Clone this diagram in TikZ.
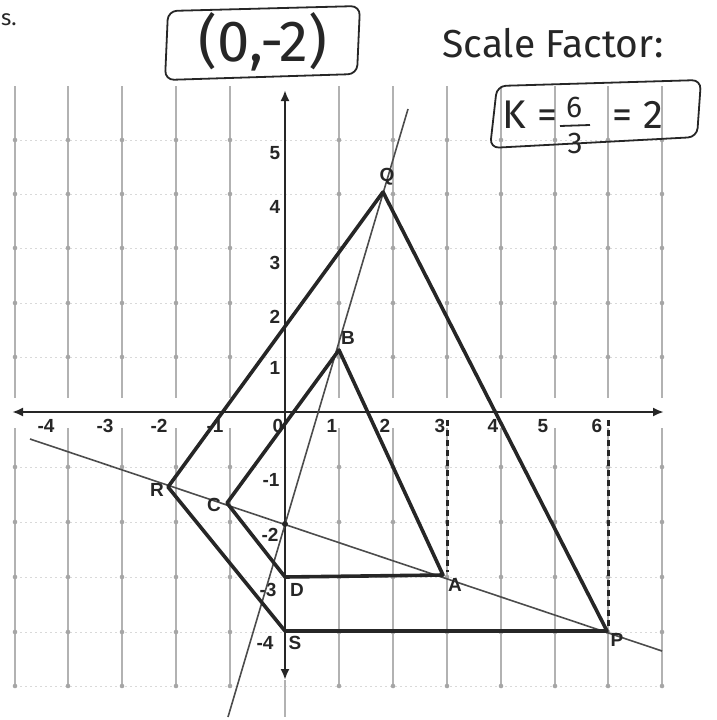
\documentclass[tikz,border=0pt]{standalone}
\usepackage{fontspec}
\newfontfamily\hand{Fira Sans}
\newfontfamily\labfont{Liberation Sans}
\usetikzlibrary{arrows.meta}
\tikzset{
  gridv/.style={draw=gray!60, line width=1.7pt},
  gridh/.style={draw=gray!30, line width=0.7pt, dash pattern=on 2pt off 3pt},
  axisline/.style={draw=black!85, line width=2.8pt},
  shapeline/.style={draw=black!85, line width=3.6pt, line join=round, line cap=round},
  rayline/.style={draw=black!70, line width=1.6pt},
  dropline/.style={draw=black!85, line width=3pt, dash pattern=on 6pt off 4pt},
  ticklab/.style={font=\labfont\bfseries\fontsize{19}{19}\selectfont, text=black!85, inner sep=0pt},
  handtxt/.style={font=\hand, text=black!85, inner sep=0pt},
  handbox/.style={draw=black!85, line width=1.8pt, rounded corners=9pt},
}
\begin{document}
\begin{tikzpicture}[x=1pt,y=-1pt]
\useasboundingbox (0,0) rectangle (716,720);
% grid
\foreach \y in {140,194,248,303,357,467,522,577,632,686}
  \draw[gridh] (15,\y) -- (662,\y);
\foreach \x in {15,68,122,176,230,339,393,447,501,555,608,662}{
  \draw[gridv] (\x,86) -- (\x,398);
  \draw[gridv] (\x,428) -- (\x,686);
  \foreach \y in {140,194,248,303,357,467,522,577,632,686}
    \fill[gray!70] (\x,\y) circle (2.3pt);
}
% axes
\coordinate (xl) at (12,412);
\coordinate (xr) at (664,412);
\coordinate (yt) at (285,90);
\coordinate (yb) at (285,680);
\coordinate (yend) at (285,717);
\draw[axisline,{Latex[length=11pt,width=9pt]}-{Latex[length=11pt,width=9pt]}] (xl) -- (xr);
\draw[axisline,{Latex[length=11pt,width=9pt]}-{Latex[length=11pt,width=9pt]}] (yb) -- (yt);
\draw[gray!60, line width=1.4pt] (yb) -- (yend);
% tick labels
\foreach \t/\x in {-4/46,-3/105,-2/159,-1/215,0/278,1/332,2/385,3/440,4/493,5/543,6/597}
  \node[ticklab] (tx\t) at (\x,426) {\t};
\foreach \t/\y in {5/153,4/207,3/263,2/317,1/368}
  \node[ticklab] (ty\t) at (275,\y) {\t};
\foreach \t/\y/\x in {-1/480/271,-2/535/270,-3/590/268,-4/643/265}
  \node[ticklab] (ty\t) at (\x,\y) {\t};
% points
\coordinate (Q) at (383,192);
\coordinate (B) at (339,350);
\coordinate (R) at (168,487);
\coordinate (C) at (227,503);
\coordinate (D) at (285,577);
\coordinate (A) at (443,575);
\coordinate (S) at (285,631);
\coordinate (P) at (607,631);
\coordinate (O) at (285,524);
\coordinate (r1a) at (408,109);
\coordinate (r1b) at (228,717);
\coordinate (r2a) at (30,439);
\coordinate (r2b) at (662,651);
\coordinate (d3t) at (447,420);
\coordinate (d3b) at (447,572);
\coordinate (d6t) at (608,420);
\coordinate (d6b) at (608,628);
% dashed drops
\draw[dropline] (d3t) -- (d3b);
\draw[dropline] (d6t) -- (d6b);
% rays
\draw[rayline] (r1a) -- (r1b);
\draw[rayline] (r2a) -- (r2b);
% figures
\draw[shapeline] (Q) -- (R) -- (S) -- (P) -- cycle;
\draw[shapeline] (B) -- (C) -- (D) -- (A) -- cycle;
\fill[black!85] (O) circle (3pt);
% vertex labels
\node[ticklab] (lQ) at (387,177) {Q};
\node[ticklab] (lB) at (348,338) {B};
\node[ticklab] (lR) at (157,490) {R};
\node[ticklab] (lC) at (214,505) {C};
\node[ticklab] (lD) at (297,590) {D};
\node[ticklab] (lA) at (455,585) {A};
\node[ticklab] (lS) at (295,643) {S};
\node[ticklab] (lP) at (617,640) {P};
% handwriting
\node[handtxt, font=\hand\fontsize{22}{22}\selectfont] (s) at (9,20) {s.};
\draw[handbox] (168,11) -- (360,6) -- (357,74) -- (165,80) -- cycle;
\node[handtxt, font=\hand\fontsize{58}{58}\selectfont] (cen) at (263,42) {(0,-2)};
\node[handtxt, font=\hand\fontsize{39}{39}\selectfont] (sf) at (553,43) {Scale Factor:};
\draw[handbox] (497,86) -- (701,80) -- (697,137) -- (490,148) -- cycle;
\node[handtxt, font=\hand\fontsize{40}{40}\selectfont] (K) at (530,115) {K =};
\node[handtxt, font=\hand\fontsize{30}{30}\selectfont] (six) at (574,107) {6};
\draw[black!85, line width=1.8pt] (560,126) -- (590,125);
\node[handtxt, font=\hand\fontsize{30}{30}\selectfont] (three) at (575,143) {3};
\node[handtxt, font=\hand\fontsize{40}{40}\selectfont] (two) at (638,115) {= 2};
\end{tikzpicture}
\end{document}
